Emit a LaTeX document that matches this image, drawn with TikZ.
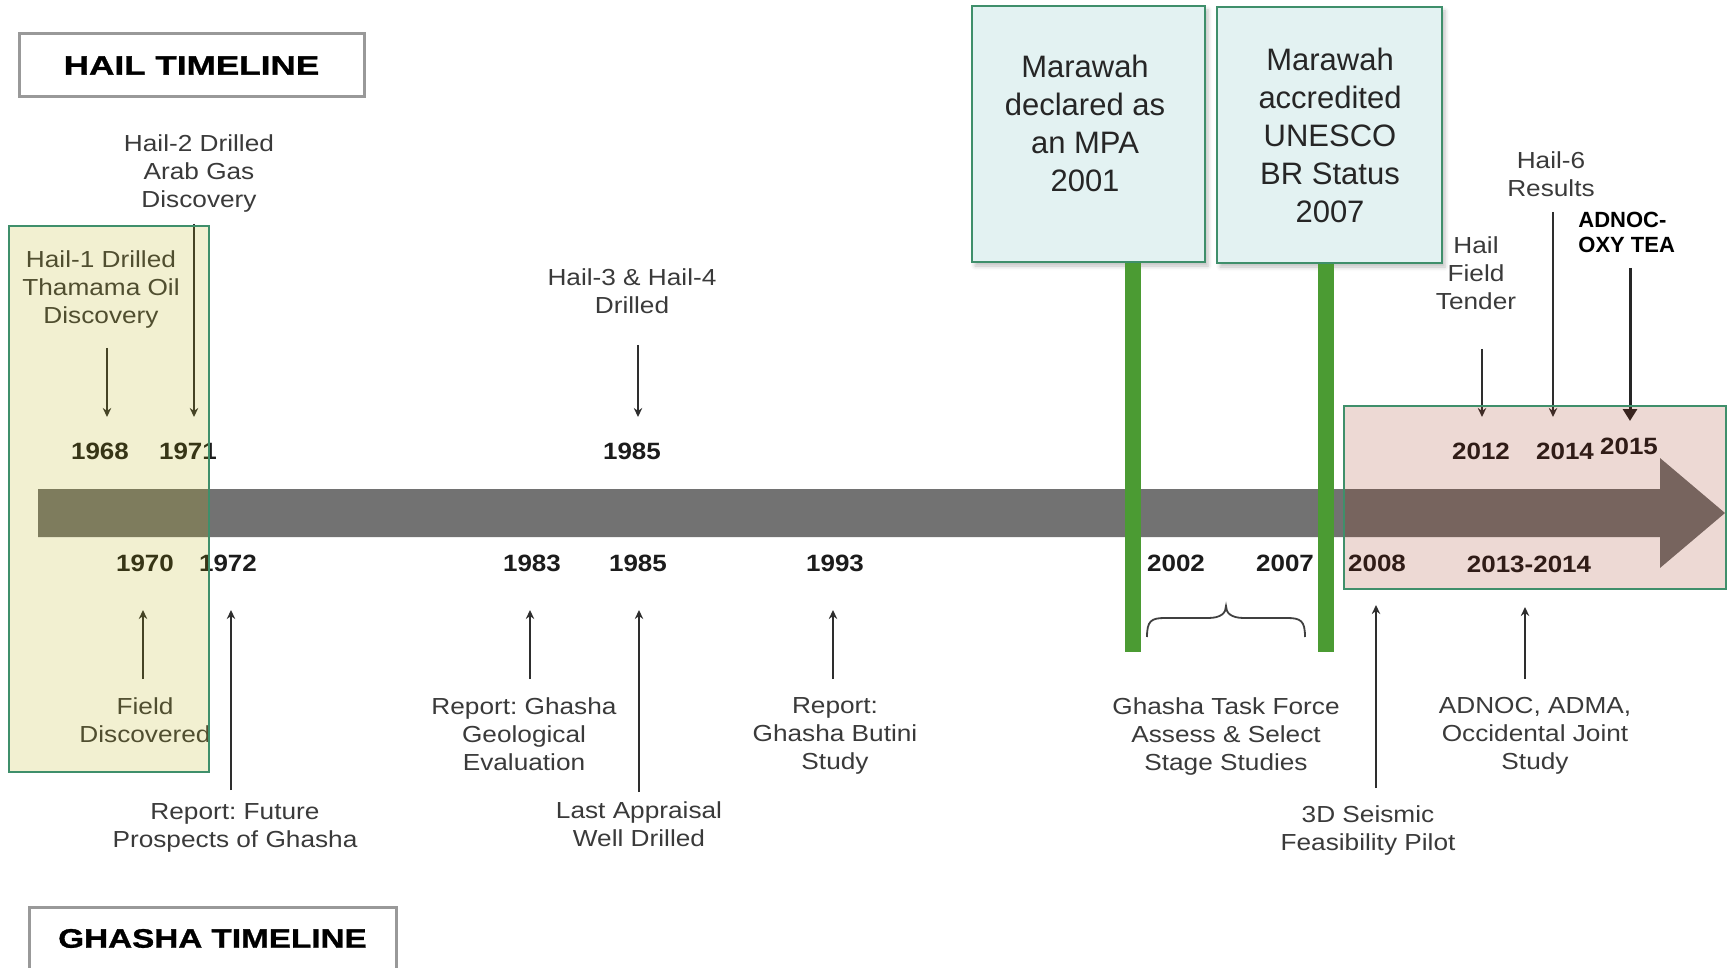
\documentclass[tikz,border=0pt]{standalone}
\usepackage{fontspec}
\setmainfont{Liberation Sans}
\newfontfamily\lblfont[FakeStretch=1.13]{Liberation Sans}
\newfontfamily\yrfont[FakeStretch=1.1]{Liberation Sans}
\newfontfamily\ttlAfont[FakeStretch=1.32,FakeBold=1.2]{Liberation Sans}
\newfontfamily\ttlBfont[FakeStretch=1.25,FakeBold=1.2]{Liberation Sans}
\usetikzlibrary{arrows.meta,shadows.blur}
\definecolor{arrgray}{HTML}{727272}
\definecolor{lbltext}{HTML}{3A3A3A}
\definecolor{yrtext}{HTML}{1C1C1C}
\definecolor{arrcol}{HTML}{2E2E2E}
\definecolor{gborder}{HTML}{3F8F6B}
\definecolor{gbarcol}{HTML}{4B9B33}
\definecolor{mfill}{HTML}{E3F2F2}
\definecolor{tborder}{HTML}{999999}
\definecolor{yeltint}{RGB}{181,170,0}
\definecolor{pinktint}{RGB}{149,32,0}
\frenchspacing
\begin{document}
\begin{tikzpicture}[x=0.5pt,y=-0.5pt,
  lbl/.style={font=\lblfont\frenchspacing\fontsize{11.6}{14}\selectfont, text=lbltext, align=center, inner sep=0pt, anchor=north},
  yr/.style={font=\yrfont\bfseries\fontsize{11.8}{14}\selectfont, text=yrtext, inner sep=0pt},
  arr/.style={draw=arrcol, line width=0.75pt, -{Stealth[length=4.5pt,width=4.2pt]}},
  bigarr/.style={draw=black!85, line width=1.5pt, -{Triangle[length=6pt,width=7pt]}},
  titlebox/.style={draw=tborder, line width=1.5pt, fill=white, inner sep=0pt, text=black},
  mbox/.style={draw=gborder, line width=1.2pt, fill=mfill, inner sep=0pt,
    blur shadow={shadow xshift=1.5pt, shadow yshift=-2pt, shadow blur radius=2pt, shadow opacity=25}},
  mtext/.style={font=\fontsize{15.5}{19}\selectfont, text=black!85, align=center, inner sep=0pt, anchor=north},
  gbar/.style={draw=gbarcol, line width=8pt},
  zoneY/.style={fill=yeltint, fill opacity=0.18, draw=gborder, line width=1pt, draw opacity=1},
  zoneP/.style={fill=pinktint, fill opacity=0.17, draw=gborder, line width=1pt, draw opacity=1},
  bracestyle/.style={draw=black!75, line width=0.9pt}
]
\useasboundingbox (0,0) rectangle (1730,968);
\clip (0,0) rectangle (1730,968);

% title boxes
\node[titlebox, minimum width=172.5pt, minimum height=31.5pt] (hailtitle) at (191.5,65.5)
  {\ttlAfont\bfseries\fontsize{13.3}{15}\selectfont HAIL TIMELINE};
\node[titlebox, minimum width=183.5pt, minimum height=31.5pt] (ghashatitle) at (212.5,938.5)
  {\ttlBfont\bfseries\fontsize{13.3}{15}\selectfont GHASHA TIMELINE};

% main timeline arrow
\fill[arrgray] (38,489) -- (1660,489) -- (1660,458) -- (1725,513) -- (1660,568) -- (1660,537) -- (38,537) -- cycle;

% Marawah boxes
\node[mbox, minimum width=116.5pt, minimum height=128pt] (mpa) at (1088.5,134) {};
\node[mtext] (mpatxt) at (1085,55) {Marawah\\declared as\\an MPA\\2001};
\node[mbox, minimum width=112.5pt, minimum height=128pt] (unesco) at (1329.5,135) {};
\node[mtext] (unescotxt) at (1330,48) {Marawah\\accredited\\UNESCO\\BR Status\\2007};

% green bars
\coordinate (bar1e) at (1133,652);
\coordinate (bar2e) at (1326,652);
\draw[gbar] (mpa.south -| bar1e) -- (bar1e);
\draw[gbar] (unesco.south -| bar2e) -- (bar2e);

% brace
\draw[bracestyle] (1147,637) .. controls (1147,621) and (1151,618) .. (1165,618) -- (1208,618)
  .. controls (1221,618) and (1226,613) .. (1226,606)
  .. controls (1226,613) and (1231,618) .. (1244,618) -- (1287,618)
  .. controls (1301,618) and (1305,621) .. (1305,637);

% top labels (Hail)
\node[lbl] (h2) at (199,134) {Hail-2 Drilled\\Arab Gas\\Discovery};
\node[lbl] (h1) at (101,250) {Hail-1 Drilled\\Thamama Oil\\Discovery};
\node[lbl] (h34) at (632,268) {Hail-3 \& Hail-4\\Drilled};
\node[lbl] (h6) at (1551,151) {Hail-6\\Results};
\node[lbl] (hft) at (1476,236) {Hail\\Field\\Tender};
\node[font=\bfseries\fontsize{11}{12.5}\selectfont, text=black, align=left, inner sep=0pt, anchor=north west] (tea) at (1578,212) {ADNOC-\\OXY TEA};

% top years
\node[yr] (y1968) at (100,451) {1968};
\node[yr] (y1971) at (188,451) {1971};
\node[yr] (y1985t) at (632,451) {1985};
\node[yr] (y2012) at (1481,451) {2012};
\node[yr] (y2014) at (1565,451) {2014};
\node[yr] (y2015) at (1629,446) {2015};

% bottom years
\node[yr] (y1970) at (145,563) {1970};
\node[yr] (y1972) at (228,563) {1972};
\node[yr] (y1983) at (532,563) {1983};
\node[yr] (y1985b) at (638,563) {1985};
\node[yr] (y1993) at (835,563) {1993};
\node[yr] (y2002) at (1176,563) {2002};
\node[yr] (y2007) at (1285,563) {2007};
\node[yr] (y2008) at (1377,563) {2008};
\node[yr] (y1314) at (1529,564) {2013-2014};

% bottom labels
\node[lbl] (fd) at (145,697) {Field\\Discovered};
\node[lbl] (rf) at (235,803) {Report: Future\\Prospects of Ghasha};
\node[lbl] (rg) at (524,697) {Report: Ghasha\\Geological\\Evaluation};
\node[lbl] (la) at (639,801) {Last Appraisal\\Well Drilled};
\node[lbl] (rb) at (835,697) {Report:\\Ghasha Butini\\Study};
\node[lbl] (tf) at (1226,697) {Ghasha Task Force\\Assess \& Select\\Stage Studies};
\node[lbl] (sp) at (1368,805) {3D Seismic\\Feasibility Pilot};
\node[lbl] (aj) at (1535,697) {ADNOC, ADMA,\\Occidental Joint\\Study};

% downward arrows (top)
\coordinate (a1s) at (107,348);  \coordinate (a1e) at (107,417);
\coordinate (a2s) at (194,224);  \coordinate (a2e) at (194,417);
\coordinate (a3s) at (638,345);  \coordinate (a3e) at (638,417);
\coordinate (a4s) at (1482,349); \coordinate (a4e) at (1482,417);
\coordinate (a5s) at (1553,212); \coordinate (a5e) at (1553,417);
\coordinate (a6s) at (1630,268); \coordinate (a6e) at (1630,421);
\draw[arr] (a1s) -- (a1e);
\draw[arr] (a2s) -- (a2e);
\draw[arr] (a3s) -- (a3e);
\draw[arr] (a4s) -- (a4e);
\draw[arr] (a5s) -- (a5e);
\draw[bigarr] (a6s) -- (a6e);

% upward arrows (bottom)
\coordinate (b1s) at (143,679);  \coordinate (b1e) at (143,610);
\coordinate (b2s) at (231,790);  \coordinate (b2e) at (231,610);
\coordinate (b3s) at (530,679);  \coordinate (b3e) at (530,610);
\coordinate (b4s) at (639,792);  \coordinate (b4e) at (639,610);
\coordinate (b5s) at (833,679);  \coordinate (b5e) at (833,610);
\coordinate (b6s) at (1376,788); \coordinate (b6e) at (1376,605);
\coordinate (b7s) at (1525,679); \coordinate (b7e) at (1525,607);
\draw[arr] (b1s) -- (b1e);
\draw[arr] (b2s) -- (b2e);
\draw[arr] (b3s) -- (b3e);
\draw[arr] (b4s) -- (b4e);
\draw[arr] (b5s) -- (b5e);
\draw[arr] (b6s) -- (b6e);
\draw[arr] (b7s) -- (b7e);

% highlighted zones (translucent)
\path[zoneY] (9,226) rectangle (209,772);
\path[zoneP] (1344,406) rectangle (1726,589);
\end{tikzpicture}
\end{document}
